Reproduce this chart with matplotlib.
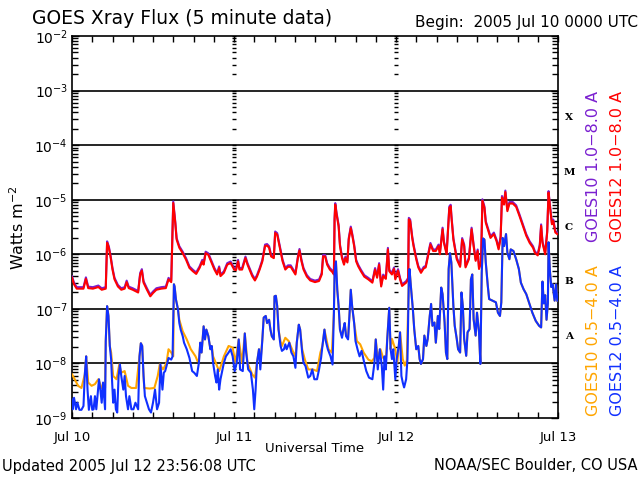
import numpy as np
import matplotlib
matplotlib.use('Agg')
import matplotlib.pyplot as plt
import matplotlib.transforms as mtransforms
from matplotlib.ticker import LogLocator, FixedLocator, NullFormatter

# data: hours since 2005 Jul 10 00:00 UT, log10 of flux (W m^-2)
# GOES12 1.0-8.0 A (GOES10 long channel sits right on top of it)
long_hours = [0.0, 0.3, 0.7, 1.7, 2.06, 2.4, 3.1, 3.9, 4.4, 5.0, 5.2, 5.45, 5.7, 6.0, 6.3, 6.8, 7.3, 7.8, 8.1, 8.4,
              9.0, 9.8, 10.1, 10.35, 10.6, 11.1, 11.6, 12.0, 12.5, 13.2, 13.9, 14.3, 14.7, 15.0, 15.3, 15.5, 15.9,
              16.4, 16.9, 17.4, 17.9, 18.4, 18.9, 19.3, 19.5, 19.8, 20.2, 20.6, 21.1, 21.5, 21.8, 22.0, 22.5, 23.0,
              23.5, 23.9,
              24.0, 24.3, 24.6, 24.8, 25.2, 25.7, 26.0, 26.3, 26.7, 27.1, 27.4, 27.8, 28.2, 28.6, 28.9, 29.2, 29.5,
              29.9, 30.1, 30.4, 30.6, 30.9, 31.2, 31.6, 32.0, 32.4, 32.8, 33.1, 33.5, 33.7, 34.0, 34.3, 34.8, 35.3,
              36.0, 36.6, 37.0, 37.2, 37.5, 37.8, 38.2, 38.6, 38.8, 38.9, 39.0, 39.2, 39.5, 39.7, 40.0, 40.3, 40.5,
              40.8, 41.0, 41.3, 41.5, 41.8, 42.1, 42.4, 42.8, 43.3, 43.9, 44.5, 44.9, 45.2, 45.5, 45.8, 46.1, 46.5,
              46.8, 47.0, 47.4, 47.7,
              47.9, 48.3, 48.6, 48.9, 49.5, 49.8, 49.9, 50.1, 50.4, 50.6, 51.0, 51.3, 51.7, 52.1, 52.4, 52.8, 53.1,
              53.5, 53.9, 54.3, 54.5, 54.9, 55.1, 55.5, 55.9, 56.1, 56.2, 56.5, 57.0, 57.5, 57.8, 58.1, 58.3, 58.8,
              59.2, 59.5, 59.8, 60.1, 60.3, 60.6, 60.8, 61.1, 61.3, 61.6, 62.0, 62.5, 62.9, 63.2, 63.5, 63.7, 64.0,
              64.2, 64.5, 64.8, 65.3, 65.8, 66.3, 66.8, 67.3, 67.8, 68.3, 68.6, 69.0, 69.3, 69.5, 69.7, 70.1, 70.4,
              70.6, 70.8, 71.1, 71.3, 71.6, 71.9]
long_log = [-6.43, -6.55, -6.63, -6.63, -6.45, -6.62, -6.63, -6.60, -6.65, -6.63, -5.79, -5.88, -6.04, -6.28, -6.46,
            -6.59, -6.65, -6.63, -6.51, -6.62, -6.65, -6.70, -6.37, -6.30, -6.52, -6.65, -6.77, -6.71, -6.65, -6.63,
            -6.62, -6.46, -6.51, -5.06, -5.43, -5.73, -5.88, -5.98, -6.10, -6.25, -6.31, -6.36, -6.25, -6.13, -6.19,
            -5.98, -6.01, -6.13, -6.28, -6.37, -6.25, -6.40, -6.34, -6.19, -6.16, -6.25,
            -6.28, -6.29, -6.13, -6.28, -6.28, -6.07, -6.19, -6.28, -6.40, -6.48, -6.41, -6.28, -6.13, -5.85, -5.84,
            -5.88, -6.04, -6.07, -5.61, -5.64, -5.76, -5.95, -6.13, -6.28, -6.23, -6.23, -6.31, -6.37, -6.04, -5.93,
            -6.13, -6.28, -6.41, -6.48, -6.51, -6.49, -6.37, -6.04, -6.04, -6.19, -6.28, -6.33, -6.37, -5.37, -5.09,
            -5.27, -5.49, -5.85, -6.07, -6.19, -6.07, -6.15, -5.73, -5.52, -5.64, -5.85, -6.13, -6.22, -6.31, -6.41,
            -6.46, -6.52, -6.28, -6.43, -6.19, -6.59, -6.40, -6.45, -5.91, -6.31, -6.37, -6.27,
            -6.46, -6.30, -6.46, -6.58, -6.52, -6.46, -5.36, -5.39, -5.70, -5.85, -6.09, -6.24, -6.34, -6.26, -6.24,
            -6.00, -5.82, -5.94, -5.94, -5.85, -6.00, -5.54, -5.79, -6.00, -5.15, -5.12, -5.30, -5.73, -6.09, -6.23,
            -5.73, -5.85, -6.24, -6.09, -5.54, -5.85, -6.12, -5.94, -6.27, -6.15, -5.02, -5.15, -5.42, -5.54, -5.70,
            -5.63, -5.76, -5.91, -5.70, -4.96, -5.09, -4.86, -5.21, -5.07, -5.07, -5.13, -5.30, -5.48, -5.66, -5.79,
            -5.88, -5.98, -6.02, -5.85, -5.48, -5.79, -6.00, -5.60, -4.87, -5.12, -5.45, -5.39, -5.60, -5.63]

# GOES12 0.5-4.0 A
g12_short_hours = [0.0, 0.1, 0.3, 0.6, 0.8, 1.1, 1.4, 1.7, 1.9, 2.1, 2.3, 2.5, 2.8, 3.0, 3.2, 3.4, 3.6, 4.0, 4.2, 4.4,
                   4.6, 4.9, 5.0, 5.2, 5.4, 5.6, 5.8, 5.9, 6.1, 6.3, 6.5, 6.7, 6.9, 7.1, 7.3, 7.6, 7.8, 8.0, 8.3, 8.5,
                   8.8, 9.1, 9.4, 9.8, 10.0, 10.2, 10.4, 10.6, 10.8, 11.1, 11.4, 11.7, 12.0, 12.3, 12.6, 12.9, 13.1,
                   13.4, 13.6, 13.8, 14.0, 14.3, 14.7, 14.9, 15.1, 15.2, 15.4, 15.7, 15.9, 16.1, 16.4, 16.6, 17.0,
                   17.4, 17.8, 18.1, 18.5, 18.8, 19.0, 19.2, 19.5, 19.7, 19.9, 20.2, 20.5, 20.7, 20.9, 21.2, 21.4,
                   21.6, 21.8, 22.0, 22.3, 22.5, 22.8, 23.2, 23.5, 23.8,
                   24.1, 24.4, 24.7, 24.9, 25.3, 25.6, 25.8, 26.1, 26.5, 26.8, 27.0, 27.2, 27.4, 27.7, 27.9, 28.2,
                   28.4, 28.7, 28.9, 29.2, 29.4, 29.6, 29.9, 30.0, 30.2, 30.4, 30.6, 30.9, 31.1, 31.4, 31.6, 31.8,
                   32.2, 32.5, 32.8, 33.1, 33.3, 33.6, 33.8, 34.1, 34.3, 34.6, 35.0, 35.3, 35.6, 35.9, 36.3, 36.6,
                   36.9, 37.1, 37.4, 37.6, 37.9, 38.3, 38.6, 38.8, 38.9, 39.1, 39.3, 39.5, 39.7, 40.0, 40.2, 40.4,
                   40.6, 40.9, 41.1, 41.3, 41.5, 41.8, 42.0, 42.3, 42.6, 42.9, 43.3, 43.6, 44.0, 44.5, 44.8, 45.0,
                   45.3, 45.6, 45.9, 46.1, 46.3, 46.5, 46.7, 47.0, 47.2, 47.4, 47.6, 47.9,
                   48.1, 48.4, 48.6, 48.8, 49.0, 49.2, 49.5, 49.7, 49.9, 50.0, 50.2, 50.5, 50.7, 51.0, 51.3, 51.5,
                   51.7, 52.0, 52.2, 52.5, 52.7, 53.0, 53.2, 53.4, 53.7, 53.9, 54.2, 54.4, 54.7, 54.9, 55.2, 55.4,
                   55.6, 55.8, 56.0, 56.2, 56.5, 56.7, 57.0, 57.2, 57.5, 57.7, 57.9, 58.1, 58.4, 58.6, 58.9, 59.1,
                   59.3, 59.5, 59.8, 60.0, 60.3, 60.5, 60.7, 60.9, 61.1, 61.3, 61.6, 61.8, 62.3, 62.8, 63.1, 63.4,
                   63.6, 63.8, 64.0, 64.3, 64.5, 64.8, 65.0, 65.4, 65.8, 66.2, 66.5, 66.9, 67.3, 67.7, 68.2, 68.7,
                   69.2, 69.5, 69.7, 69.9, 70.1, 70.3, 70.5, 70.6, 70.8, 71.0, 71.2, 71.5, 71.7, 71.9]
g12_short_log = [-8.66, -8.84, -8.63, -8.84, -8.72, -8.85, -8.85, -8.78, -8.20, -7.87, -8.48, -8.85, -8.60, -8.85,
                 -8.84, -8.60, -8.84, -8.29, -8.48, -8.72, -8.35, -8.84, -7.59, -6.95, -7.13, -7.68, -7.93, -8.23,
                 -8.72, -8.48, -8.84, -8.90, -8.23, -8.02, -8.23, -8.48, -8.23, -8.60, -8.84, -8.60, -8.84, -8.84,
                 -8.72, -8.84, -7.87, -7.63, -7.68, -8.23, -8.60, -8.72, -8.84, -8.90, -8.72, -8.48, -8.84, -8.72,
                 -8.02, -8.48, -8.17, -8.14, -8.05, -7.90, -7.93, -7.87, -6.55, -6.59, -6.83, -7.01, -7.26, -7.38,
                 -7.50, -7.62, -7.74, -7.90, -8.14, -8.17, -8.23, -7.99, -7.62, -7.80, -7.32, -7.56, -7.38, -7.50,
                 -7.74, -7.68, -7.99, -8.23, -8.35, -8.11, -8.48, -8.29, -8.11, -7.99, -7.87, -7.80, -7.74, -7.87,
                 -8.14, -7.99, -7.56, -8.11, -8.14, -7.45, -7.80, -8.11, -8.17, -8.48, -8.84, -8.48, -7.99, -7.74,
                 -8.11, -7.56, -7.16, -7.13, -7.26, -7.20, -7.38, -7.50, -7.56, -6.77, -6.76, -6.95, -7.38, -7.68,
                 -7.77, -7.74, -7.65, -7.74, -7.62, -7.80, -7.87, -8.08, -7.62, -7.29, -7.38, -7.80, -7.99, -8.05,
                 -8.26, -8.23, -8.11, -8.29, -8.29, -8.11, -7.90, -7.68, -7.38, -7.59, -7.74, -7.87, -8.02, -7.07,
                 -6.34, -6.13, -6.65, -6.95, -7.38, -7.53, -7.38, -7.26, -7.50, -7.56, -7.13, -6.65, -6.95, -7.26,
                 -7.59, -7.74, -7.87, -7.77, -7.99, -8.14, -8.26, -8.29, -7.99, -7.56, -8.11, -7.74, -8.05, -8.48,
                 -7.87, -8.11, -7.56, -6.98, -7.74, -7.92, -7.74, -8.29,
                 -7.92, -7.68, -7.43, -8.23, -8.35, -8.44, -8.29, -7.92, -6.46, -6.27, -6.58, -7.01, -7.37, -7.74,
                 -7.68, -7.92, -8.01, -7.92, -7.49, -7.68, -7.55, -7.13, -6.91, -7.31, -7.25, -7.62, -7.13, -7.37,
                 -6.61, -6.73, -7.25, -7.80, -7.92, -6.27, -5.98, -6.15, -6.95, -7.31, -7.55, -7.74, -7.80, -6.70,
                 -6.95, -7.55, -7.86, -7.43, -7.37, -6.46, -6.37, -7.19, -7.49, -7.07, -7.43, -8.01, -6.34, -5.71,
                 -5.73, -6.15, -6.58, -6.82, -6.85, -6.88, -7.07, -7.13, -6.88, -5.70, -5.85, -5.63, -5.97, -6.09,
                 -5.91, -5.94, -6.09, -6.27, -6.52, -6.64, -6.73, -6.88, -7.07, -7.22, -7.31, -7.34, -6.50, -6.90,
                 -6.75, -7.20, -6.90, -5.78, -6.30, -6.60, -6.55, -6.85, -6.55, -6.85]

# GOES10 0.5-4.0 A
g10_short_hours = [0.0, 0.4, 0.9, 1.4, 1.9, 2.1, 2.4, 2.9, 3.4, 3.9, 4.4, 4.9, 5.0, 5.2, 5.4, 5.6, 5.8, 6.1, 6.6, 7.0,
                   7.3, 7.8, 8.3, 8.8, 9.5, 10.0, 10.2, 10.4, 10.6, 10.7, 11.5, 12.2, 12.7, 13.0, 13.5, 14.0, 14.3,
                   14.7, 15.0, 15.1, 15.2, 15.4, 15.7, 15.9, 16.4, 17.0, 17.6, 18.3, 18.6, 18.8, 19.0, 19.2, 19.5,
                   19.7, 19.9, 20.2, 20.5, 20.7, 20.9, 21.3, 21.8, 22.2, 22.5, 23.2, 23.8,
                   24.2, 24.7, 25.2, 25.6, 26.0, 26.7, 27.1, 27.4, 27.7, 27.9, 28.2, 28.4, 28.7, 28.9, 29.2, 29.4,
                   29.6, 29.9, 30.0, 30.2, 30.4, 30.6, 30.9, 31.1, 31.6, 32.1, 32.8, 33.1, 33.3, 33.6, 33.8, 34.1,
                   34.5, 35.0, 35.7, 36.3, 36.8, 37.1, 37.4, 37.5, 38.0, 38.5, 38.8, 38.9, 39.1, 39.3, 39.5, 39.7,
                   40.0, 40.2, 40.4, 40.6, 40.9, 41.1, 41.3, 41.5, 41.8, 42.2, 42.7, 43.2, 43.9, 44.4, 44.8, 45.0,
                   45.3, 45.7, 46.1, 46.5, 46.7, 47.0, 47.2, 47.4, 47.9, 48.2, 48.6, 49.0, 49.3, 49.6, 49.9, 50.0,
                   50.2, 50.5, 50.7, 51.0, 51.3, 51.5, 51.7, 52.0, 52.2, 52.5, 52.7, 53.0, 53.2, 53.4, 53.7, 53.9,
                   54.2, 54.4, 54.7, 54.9, 55.2, 55.4, 55.6, 55.8, 56.0, 56.2, 56.5, 56.7, 57.0, 57.2, 57.5, 57.7,
                   57.9, 58.1, 58.4, 58.6, 58.9, 59.1, 59.3, 59.5, 59.8, 60.0, 60.3, 60.5, 60.7, 60.9, 61.1, 61.3,
                   61.6, 61.8, 62.3, 62.8, 63.1, 63.4, 63.6, 63.8, 64.0, 64.3, 64.5, 64.8, 65.0, 65.4, 65.8, 66.2,
                   66.5, 66.9, 67.3, 67.7, 68.2, 68.7, 69.2, 69.5, 69.7, 69.9, 70.1, 70.3, 70.5, 70.6, 70.8, 71.0,
                   71.2, 71.5, 71.7, 71.9]
g10_short_log = [-8.20, -8.29, -8.41, -8.45, -8.20, -7.87, -8.35, -8.41, -8.38, -8.29, -8.45, -8.45, -7.59, -6.95,
                 -7.13, -7.68, -7.80, -8.23, -8.29, -8.02, -8.17, -8.14, -8.41, -8.45, -8.45, -7.87, -7.63, -7.68,
                 -8.23, -8.45, -8.46, -8.45, -8.23, -8.02, -8.11, -7.99, -7.74, -7.80, -7.87, -6.55, -6.59, -6.83,
                 -7.00, -7.20, -7.41, -7.56, -7.74, -7.87, -7.96, -7.95, -7.62, -7.80, -7.32, -7.56, -7.38, -7.50,
                 -7.74, -7.68, -7.87, -7.99, -8.14, -7.99, -7.87, -7.68, -7.71,
                 -7.99, -7.56, -7.99, -7.45, -7.99, -8.20, -8.26, -7.99, -7.74, -8.00, -7.56, -7.16, -7.13, -7.26,
                 -7.20, -7.38, -7.50, -7.56, -6.77, -6.76, -6.95, -7.38, -7.60, -7.68, -7.53, -7.59, -7.80, -7.87,
                 -7.62, -7.29, -7.38, -7.74, -7.93, -8.11, -8.11, -8.14, -7.80, -7.68, -7.38, -7.44, -7.74, -7.80,
                 -7.07, -6.34, -6.13, -6.65, -6.95, -7.38, -7.50, -7.38, -7.26, -7.48, -7.53, -7.13, -6.65, -6.95,
                 -7.26, -7.59, -7.65, -7.80, -7.93, -7.96, -7.90, -7.56, -7.90, -7.74, -7.90, -7.93, -7.56, -6.98,
                 -7.74, -7.55, -7.74, -7.99, -7.43, -7.92, -8.04, -7.95, -6.46, -6.27,
                 -6.58, -7.01, -7.37, -7.74, -7.68, -7.92, -8.01, -7.92, -7.49, -7.68, -7.55, -7.13, -6.91, -7.31,
                 -7.25, -7.62, -7.13, -7.37, -6.61, -6.73, -7.25, -7.80, -7.92, -6.27, -5.98, -6.15, -6.95, -7.31,
                 -7.55, -7.74, -7.80, -6.70, -6.95, -7.55, -7.86, -7.43, -7.37, -6.46, -6.37, -7.19, -7.49, -7.07,
                 -7.43, -8.01, -6.34, -5.71, -5.73, -6.15, -6.58, -6.82, -6.85, -6.88, -7.07, -7.13, -6.88, -5.70,
                 -5.85, -5.63, -5.97, -6.09, -5.91, -5.94, -6.09, -6.27, -6.52, -6.64, -6.73, -6.88, -7.07, -7.22,
                 -7.31, -7.34, -6.50, -6.90, -6.75, -7.20, -6.90, -5.78, -6.30, -6.60, -6.55, -6.85, -6.55, -6.85]

day_ticks = [0, 24, 48, 72]
day_labels = ['Jul 10', 'Jul 11', 'Jul 12', 'Jul 13']
flare_classes = ['X', 'M', 'C', 'B', 'A']
flare_levels = [1e-3, 1e-4, 1e-5, 1e-6, 1e-7]

c_red = '#ff0000'
c_purple = '#7a1fd0'
c_orange = '#ffa500'
c_blue = '#1030ff'

fig = plt.figure(figsize=(6.4, 4.8), dpi=100)
ax = fig.add_axes([72 / 640, 62 / 480, 486 / 640, 382 / 480])

ax.set_yscale('log')
ax.set_xlim(0, 72)
ax.set_ylim(1e-9, 1e-2)

# decade lines
for e in range(-8, -2):
    ax.axhline(10.0 ** e, color='black', lw=1.2, zorder=1)

# day separators drawn as a column of little tick marks
minor_vals = [m * 10.0 ** e for e in range(-9, -2) for m in range(1, 10)] + [1e-2]
for d in day_ticks[1:3]:
    ax.plot([d] * len(minor_vals), minor_vals, ls='none', marker='_', ms=3.5, mew=1.0,
            color='black', zorder=2)

# purple drawn a pixel higher so it peeks out over the red
up = mtransforms.offset_copy(ax.transData, fig=fig, x=0, y=1.5, units='dots')
ax.plot(long_hours, 10.0 ** np.array(long_log), color=c_purple, lw=1.5, transform=up, zorder=3)
ax.plot(long_hours, 10.0 ** np.array(long_log), color=c_red, lw=1.5, zorder=4)
ax.plot(g10_short_hours, 10.0 ** np.array(g10_short_log), color=c_orange, lw=1.5, zorder=3)
ax.plot(g12_short_hours, 10.0 ** np.array(g12_short_log), color=c_blue, lw=1.5, zorder=4)

# ticks
ax.set_xticks(day_ticks)
ax.set_xticklabels(day_labels)
ax.xaxis.set_minor_locator(FixedLocator(np.arange(3, 72, 3)))
ax.tick_params(axis='x', which='both', direction='in', top=True, bottom=True, length=4, width=1,
               labelsize=9.5, pad=9)
ax.yaxis.set_major_locator(LogLocator(base=10, numticks=10))
ax.yaxis.set_minor_locator(LogLocator(base=10, subs=np.arange(2, 10), numticks=20))
ax.yaxis.set_minor_formatter(NullFormatter())
ax.tick_params(axis='y', which='major', direction='in', left=True, right=True, length=5, width=1,
               labelsize=10, pad=3)
ax.tick_params(axis='y', which='minor', direction='in', left=True, right=True, length=4, width=1)
for s in ax.spines.values():
    s.set_linewidth(1.2)

# flare class letters
tr = mtransforms.blended_transform_factory(fig.transFigure, ax.transData)
for lab, lev in zip(flare_classes, flare_levels):
    ax.text(569 / 640, lev * 10 ** -0.5, lab, transform=tr, ha='center', va='center',
            family='DejaVu Serif', fontweight='bold', fontsize=7.5)

# texts around the plot
fig.text(32 / 640, 1 - 18 / 480, 'GOES Xray Flux (5 minute data)', fontsize=13.5, va='center')
fig.text(638 / 640, 1 - 22 / 480, 'Begin:  2005 Jul 10 0000 UTC', fontsize=11, ha='right', va='center')
fig.text(18 / 640, 1 - 228 / 480, 'Watts m$^{-2}$', fontsize=11.5, rotation=90, ha='center', va='center')
fig.text(315 / 640, 1 - 449 / 480, 'Universal Time', fontsize=9.5, ha='center', va='center')
fig.text(2 / 640, 1 - 466 / 480, 'Updated 2005 Jul 12 23:56:08 UTC', fontsize=10.5, ha='left', va='center')
fig.text(638 / 640, 1 - 466 / 480, 'NOAA/SEC Boulder, CO USA', fontsize=10.5, ha='right', va='center')

fig.text(593 / 640, 1 - 166 / 480, 'GOES10 1.0\u22128.0 A', color=c_purple, fontsize=11.5,
         rotation=90, ha='center', va='center')
fig.text(618 / 640, 1 - 166 / 480, 'GOES12 1.0\u22128.0 A', color=c_red, fontsize=11.5,
         rotation=90, ha='center', va='center')
fig.text(593 / 640, 1 - 341 / 480, 'GOES10 0.5\u22124.0 A', color=c_orange, fontsize=11.5,
         rotation=90, ha='center', va='center')
fig.text(618 / 640, 1 - 341 / 480, 'GOES12 0.5\u22124.0 A', color=c_blue, fontsize=11.5,
         rotation=90, ha='center', va='center')

fig.savefig('out.png', dpi=100)
